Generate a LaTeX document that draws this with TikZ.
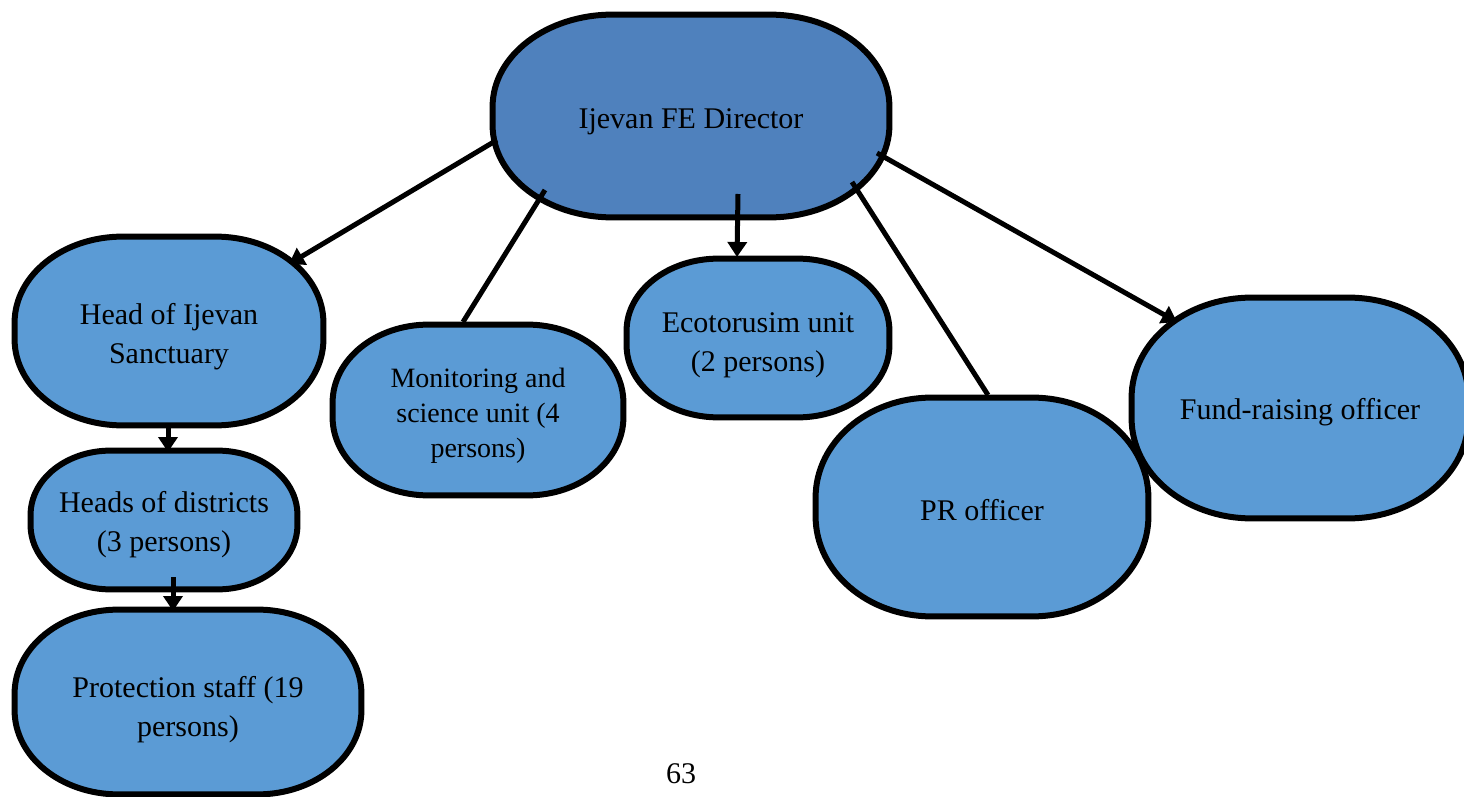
\documentclass[tikz,border=0pt]{standalone}
\usepackage{fontspec}
\setmainfont{Liberation Serif}
\usetikzlibrary{arrows.meta,calc}
\definecolor{dirblue}{RGB}{79,129,189}
\definecolor{boxblue}{RGB}{91,155,213}
\tikzset{
  geom/.style={rectangle, inner sep=0pt},
  orgbox/.style={draw=black, line width=3pt, fill=boxblue},
  txt/.style={align=center, inner sep=0pt, font=\fontsize{15pt}{19.5pt}\selectfont},
  conn/.style={line width=2.5pt, draw=black},
  arr/.style={conn, -{Triangle[length=7.5pt,width=9.5pt]}}
}
% #1 node name, #2 x radius, #3 y radius, #4 fill colour
\newcommand{\ebox}[4]{%
  \path[orgbox, fill=#4]
    ($(#1.north east)+(-#2,0)$) arc[start angle=90,end angle=0,x radius=#2,y radius=#3]
    -- ($(#1.south east)+(0,#3)$) arc[start angle=0,end angle=-90,x radius=#2,y radius=#3]
    -- ($(#1.south west)+(#2,0)$) arc[start angle=-90,end angle=-180,x radius=#2,y radius=#3]
    -- ($(#1.north west)+(0,-#3)$) arc[start angle=180,end angle=90,x radius=#2,y radius=#3]
    -- cycle;}
\begin{document}
\begin{tikzpicture}[x=0.5pt,y=-0.5pt]
\useasboundingbox (0,0) rectangle (1464,797);
% node geometry
\node[geom, minimum width=198pt, minimum height=101pt] (dir) at (691,116) {};
\node[geom, minimum width=154pt, minimum height=94pt] (head) at (169,331) {};
\node[geom, minimum width=133pt, minimum height=69pt] (dist) at (164,520) {};
\node[geom, minimum width=173pt, minimum height=92pt] (prot) at (188,702) {};
\node[geom, minimum width=145pt, minimum height=85pt] (mon) at (478,410) {};
\node[geom, minimum width=131pt, minimum height=79pt] (eco) at (758,338) {};
\node[geom, minimum width=166pt, minimum height=109pt] (pr) at (982,507) {};
\node[geom, minimum width=168pt, minimum height=110pt] (fund) at (1300,408) {};
% shapes
\ebox{dir}{60pt}{46pt}{dirblue}
\ebox{head}{54pt}{43pt}{boxblue}
\ebox{dist}{40pt}{32pt}{boxblue}
\ebox{prot}{52pt}{42pt}{boxblue}
\ebox{mon}{48pt}{39pt}{boxblue}
\ebox{eco}{46pt}{36pt}{boxblue}
\ebox{pr}{58pt}{50pt}{boxblue}
\ebox{fund}{60pt}{50pt}{boxblue}
% texts
\node[txt] (tdir) at ([yshift=-3pt]dir.center) {Ijevan FE Director};
\node[txt] (thead) at ([yshift=-3pt]head.center) {Head of Ijevan\\Sanctuary};
\node[txt] (tdist) at ([yshift=-2.5pt]dist.center) {Heads of districts\\(3 persons)};
\node[txt] (tprot) at ([yshift=-4pt]prot.center) {Protection staff (19\\persons)};
\node[txt, font=\fontsize{14pt}{17.5pt}\selectfont] (tmon) at ([yshift=-3pt]mon.center) {Monitoring and\\science unit (4\\persons)};
\node[txt] (teco) at ([yshift=-3.5pt]eco.center) {Ecotorusim unit\\(2 persons)};
\node[txt] (tpr) at ([yshift=-1.5pt]pr.center) {PR officer};
\node[txt] (tfund) at ([yshift=-2pt]fund.center) {Fund-raising officer};
\node[font=\fontsize{15pt}{18pt}\selectfont, inner sep=0pt] (page) at (681,774) {63};
% connectors
\draw[arr] ([shift={(-194,24)}]dir.center) -- ([shift={(120,-67)}]head.center);
\draw[conn] ([shift={(-146,74)}]dir.center) -- ([shift={(-15,-88)}]mon.center);
\draw[arr] ([shift={(47,78)}]dir.center) -- ([shift={(-21,-81)}]eco.center);
\draw[conn] ([shift={(161,66)}]dir.center) -- ([shift={(6,-112)}]pr.center);
\draw[arr] ([shift={(186,37)}]dir.center) -- ([shift={(-123,-86)}]fund.center);
\draw[arr] ([shift={(-1,94)}]head.center) -- ([shift={(4,-68)}]dist.center);
\draw[arr] ([shift={(9,57)}]dist.center) -- ([shift={(-15,-91)}]prot.center);
\end{tikzpicture}
\end{document}
